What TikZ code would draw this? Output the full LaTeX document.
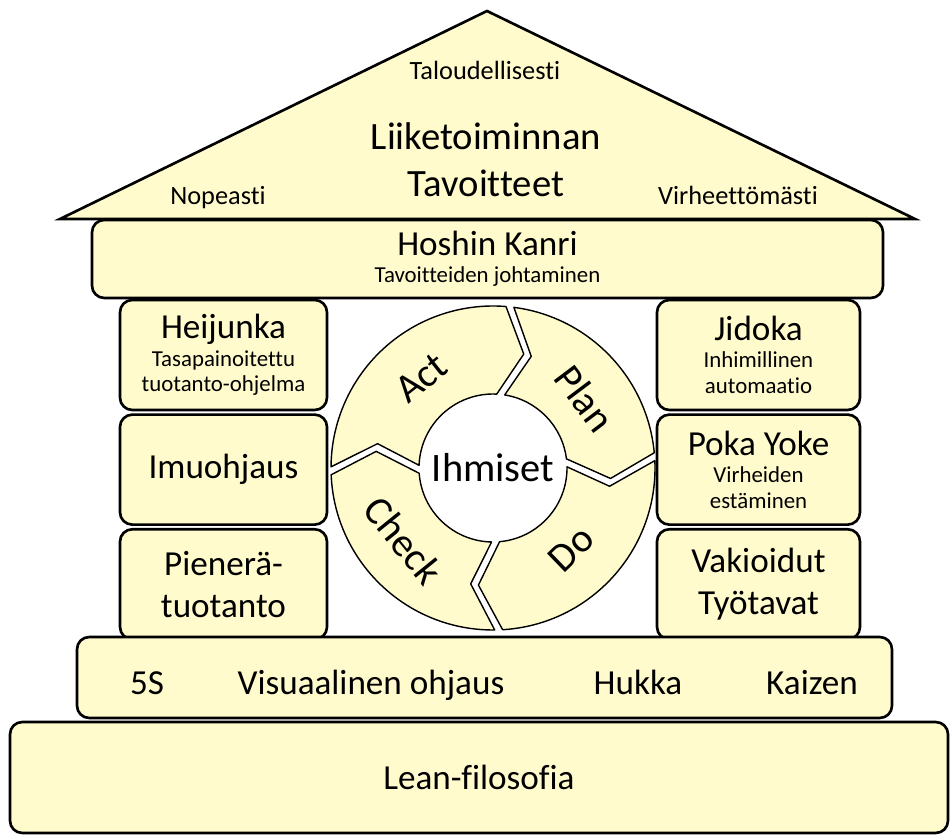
\documentclass[tikz,border=0pt]{standalone}
\usepackage{fontspec}
\setmainfont[Ligatures=NoCommon]{Carlito}
\usetikzlibrary{positioning}
\definecolor{leanfill}{RGB}{255,251,204}
\newcommand\mainfs{\fontsize{20}{24}\selectfont}
\newcommand\subfs{\fontsize{13}{14.5}\selectfont}
\newcommand\rooffs{\fontsize{15}{18}\selectfont}
\newcommand\ringfs{\fontsize{23}{26}\selectfont}
\tikzset{box/.style={rectangle,draw,rounded corners=7pt,fill=leanfill,line width=1.5pt,align=center,inner sep=2pt},
  pillar/.style={box,minimum width=41.4mm,minimum height=22mm},
  seg/.style={draw,fill=leanfill,line width=0.8pt,line join=round},
  word/.style={inner sep=0pt,anchor=base},
  ringword/.style={font=\ringfs,inner sep=0pt}}

\begin{document}
\begin{tikzpicture}[node distance=0.4mm]
\fill[white] (0,0) rectangle (19,16.72);
\useasboundingbox (0,0) rectangle (19,16.72);
% katto
\draw[fill=leanfill,line width=1.5pt] (1.2,12.34) -- (9.74,16.5) -- (18.3,12.34) -- cycle;
\node[word,font=\rooffs] (talous) at (9.7,15.12) {Taloudellisesti};
\node[font=\fontsize{22}{26.7}\selectfont,align=center] (goal) at (9.72,13.52) {Liiketoiminnan\\Tavoitteet};
\node[word,font=\rooffs] (nopea) at (4.36,12.62) {Nopeasti};
\node[word,font=\rooffs] (virhe) at (14.76,12.62) {Virheettömästi};
\node[box,font=\subfs,minimum width=158.2mm,minimum height=15.6mm] (hoshin) at (9.75,11.54)
  {{\mainfs Hoshin Kanri}\\[1pt]Tavoitteiden johtaminen};
% pylväät
\node[pillar,font=\subfs] (heij) at (4.47,9.62) {{\mainfs Heijunka}\\[1pt]Tasapainoitettu\\tuotanto-ohjelma};
\node[pillar,font=\mainfs,below=of heij] (imu) {Imuohjaus};
\node[pillar,font=\mainfs,below=of imu] (pien) {Pienerä-\\tuotanto};
\node[pillar,font=\subfs,minimum width=40.6mm] (jid) at (15.17,9.62) {{\mainfs Jidoka}\\[1pt]Inhimillinen\\automaatio};
\node[pillar,font=\subfs,minimum width=40.6mm,below=of jid] (poka) {{\mainfs Poka Yoke}\\[1pt]Virheiden\\estäminen};
\node[pillar,font=\mainfs,minimum width=40.6mm,below=of poka] (vak) {Vakioidut\\Työtavat};
% perusta
\node[box,minimum width=163mm,minimum height=16.2mm] (base) at (9.69,3.17) {};
\node[word,font=\mainfs] (fives) at (2.94,2.82) {5S};
\node[word,font=\mainfs] (visual) at (7.42,2.82) {Visuaalinen ohjaus};
\node[word,font=\mainfs] (hukka) at (12.76,2.82) {Hukka};
\node[word,font=\mainfs] (kaizen) at (16.24,2.82) {Kaizen};
\node[box,font=\mainfs,minimum width=187.6mm,minimum height=22.2mm] (lean) at (9.58,1.17) {Lean-filosofia};
% PDCA-ympyrä
\begin{scope}[shift={(9.86,7.36)}]
\foreach \ga/\gb in {84/4,4/-88,-88/-179,181/84}
  \draw[seg] ({\ga-1.4}:3.24) arc[start angle={\ga-1.4},end angle={\gb+1.4},radius=3.24]
    -- ({\gb+1.9-11}:2.36) -- ({\gb+3.1}:1.48)
    arc[start angle={\gb+3.1},end angle={\ga-3.1},radius=1.48]
    -- ({\ga-1.9-11}:2.36) -- cycle;
\node[ringword] (people) at (0,0) {Ihmiset};
\node[ringword,rotate=-53] (plan) at (37:2.3) {Plan};
\node[ringword,rotate=44] (do) at (-46:2.25) {Do};
\node[ringword,rotate=-51] (check) at (-141:2.3) {Check};
\node[ringword,rotate=38.5] (act) at (128.5:2.3) {Act};
\end{scope}
\end{tikzpicture}
\end{document}
